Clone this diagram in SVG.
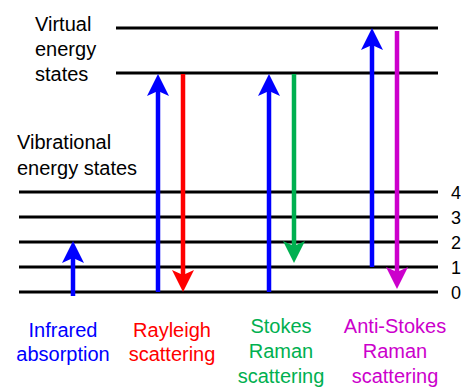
<svg xmlns="http://www.w3.org/2000/svg" width="461" height="387" viewBox="0 0 461 387">
<style>
.lvl{stroke:#000;stroke-width:3;fill:none}
.t{font-family:"Liberation Sans",Arial,sans-serif;font-size:20px}
.n{font-family:"Liberation Sans",Arial,sans-serif;font-size:18px;fill:#000}
.sh{stroke-width:4.5;fill:none}
</style>
<defs>
<marker id="hb" markerUnits="userSpaceOnUse" orient="auto" markerWidth="40" markerHeight="40" refX="0" refY="0" overflow="visible"><path d="M15,0 L-7,-11 L-2,0 L-7,11 Z" fill="#0000FF"/></marker>
<marker id="hr" markerUnits="userSpaceOnUse" orient="auto" markerWidth="40" markerHeight="40" refX="0" refY="0" overflow="visible"><path d="M15,0 L-7,-11 L-2,0 L-7,11 Z" fill="#FF0000"/></marker>
<marker id="hg" markerUnits="userSpaceOnUse" orient="auto" markerWidth="40" markerHeight="40" refX="0" refY="0" overflow="visible"><path d="M15,0 L-7,-11 L-2,0 L-7,11 Z" fill="#00B050"/></marker>
<marker id="hm" markerUnits="userSpaceOnUse" orient="auto" markerWidth="40" markerHeight="40" refX="0" refY="0" overflow="visible"><path d="M15,0 L-7,-11 L-2,0 L-7,11 Z" fill="#CC00CC"/></marker>
</defs>
<g id="levels">
<line class="lvl" x1="116" y1="28" x2="438" y2="28"/>
<line class="lvl" x1="116" y1="73" x2="438" y2="73"/>
<line class="lvl" x1="19" y1="192" x2="438" y2="192"/>
<line class="lvl" x1="19" y1="217" x2="438" y2="217"/>
<line class="lvl" x1="19" y1="242" x2="438" y2="242"/>
<line class="lvl" x1="19" y1="267" x2="438" y2="267"/>
<line class="lvl" x1="19" y1="292" x2="438" y2="292"/>
</g>
<g id="level-labels">
<text class="t" x="35" y="31">Virtual</text>
<text class="t" x="35" y="56">energy</text>
<text class="t" x="35" y="81">states</text>
<text class="t" x="17" y="149">Vibrational</text>
<text class="t" x="17" y="175">energy states</text>
<text class="n" x="451" y="199">4</text>
<text class="n" x="451" y="224">3</text>
<text class="n" x="451" y="249">2</text>
<text class="n" x="451" y="274">1</text>
<text class="n" x="451" y="299">0</text>
</g>
<g id="connectors">
<line class="sh" stroke="#0000FF" x1="73" y1="296" x2="73" y2="256" marker-end="url(#hb)"/>
<line class="sh" stroke="#0000FF" x1="158" y1="292" x2="158" y2="89" marker-end="url(#hb)"/>
<line class="sh" stroke="#FF0000" x1="183" y1="74" x2="183" y2="277" marker-end="url(#hr)"/>
<line class="sh" stroke="#0000FF" x1="269" y1="292" x2="269" y2="89" marker-end="url(#hb)"/>
<line class="sh" stroke="#00B050" x1="294" y1="74" x2="294" y2="248" marker-end="url(#hg)"/>
<line class="sh" stroke="#0000FF" x1="372" y1="267" x2="372" y2="43" marker-end="url(#hb)"/>
<line class="sh" stroke="#CC00CC" x1="397" y1="31" x2="397" y2="274" marker-end="url(#hm)"/>
</g>
<g id="infrared">
<text class="t" fill="#0000FF" text-anchor="middle" x="63" y="337">Infrared</text>
<text class="t" fill="#0000FF" text-anchor="middle" x="63" y="361">absorption</text>
</g>
<g id="rayleigh">
<text class="t" fill="#FF0000" text-anchor="middle" x="172" y="337">Rayleigh</text>
<text class="t" fill="#FF0000" text-anchor="middle" x="172" y="361">scattering</text>
</g>
<g id="stokes">
<text class="t" fill="#00B050" text-anchor="middle" x="281" y="333">Stokes</text>
<text class="t" fill="#00B050" text-anchor="middle" x="281" y="358">Raman</text>
<text class="t" fill="#00B050" text-anchor="middle" x="281" y="383">scattering</text>
</g>
<g id="antistokes">
<text class="t" fill="#CC00CC" text-anchor="middle" x="395" y="333">Anti-Stokes</text>
<text class="t" fill="#CC00CC" text-anchor="middle" x="395" y="358">Raman</text>
<text class="t" fill="#CC00CC" text-anchor="middle" x="395" y="383">scattering</text>
</g>
</svg>
